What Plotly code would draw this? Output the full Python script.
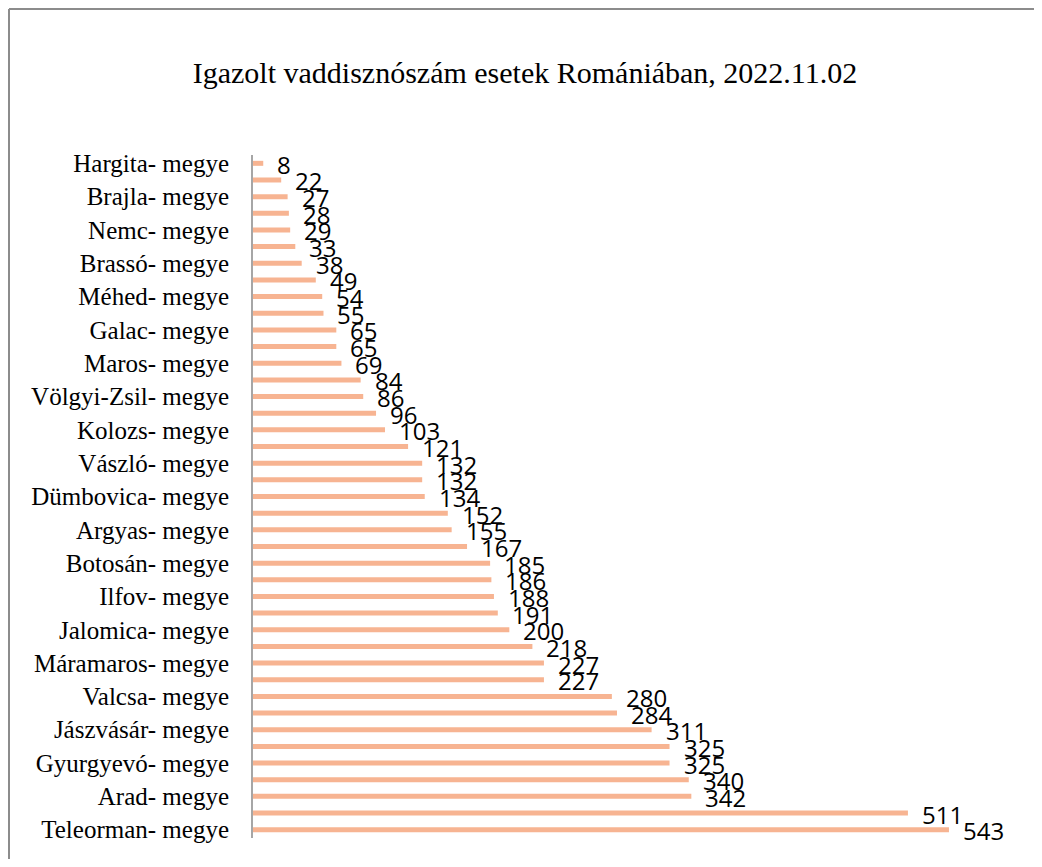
import plotly.graph_objects as go

W, H = 1026, 851

counties = [
    "Hargita- megye", "Kovászna- megye", "Brajla- megye", "Szilágy- megye",
    "Nemc- megye", "Beszterce-Naszód- megye", "Brassó- megye", "Szeben- megye",
    "Méhed- megye", "Fehér- megye", "Galac- megye", "Hunyad- megye",
    "Maros- megye", "Krassó-Szörény- megye", "Völgyi-Zsil- megye", "Bákó- megye",
    "Kolozs- megye", "Vrancsa- megye", "Vászló- megye", "Bodza- megye",
    "Dümbovica- megye", "Olt- megye", "Argyas- megye", "Dolj- megye",
    "Botosán- megye", "Prahova- megye", "Ilfov- megye", "Kalarás- megye",
    "Jalomica- megye", "Szucsáva- megye", "Máramaros- megye", "Bihar- megye",
    "Valcsa- megye", "Temes- megye", "Jászvásár- megye", "Konstanca- megye",
    "Gyurgyevó- megye", "Tulcsa- megye", "Arad- megye", "Szatmár- megye",
    "Teleorman- megye",
]
cases = [8, 22, 27, 28, 29, 33, 38, 49, 54, 55, 65, 65, 69, 84, 86, 96, 103,
         121, 132, 132, 134, 152, 155, 167, 185, 186, 188, 191, 200, 218, 227,
         227, 280, 284, 311, 325, 325, 340, 342, 511, 543]
shown_ticks = counties[::2]

title_text = "Igazolt vaddisznószám esetek Romániában, 2022.11.02"

L, R, T, B = 245, 12, 147, 21

fig = go.Figure()
fig.add_trace(go.Bar(
    x=cases, y=counties, orientation="h",
    marker=dict(color="#F7B492", line=dict(width=0)),
    width=0.3, hoverinfo="x+y",
))

for c, v in zip(counties, cases):
    fig.add_annotation(
        x=v, y=c, text=str(v), showarrow=False, xanchor="left", yanchor="middle",
        xshift=12, yshift=-1,
        font=dict(family="Open Sans", size=24, color="#000000"),
    )

pw = W - L - R
ph = H - T - B
def px(xp):
    return (xp - L) / pw
def py(yp):
    return (H - B - yp) / ph

# left and top edges of the chart frame (the rest is cropped in the reference)
fig.add_shape(
    type="line", xref="paper", yref="paper",
    x0=px(1), y0=py(H), x1=px(1), y1=py(1),
    line=dict(color="#8C8C8C", width=2),
)
fig.add_shape(
    type="line", xref="paper", yref="paper",
    x0=px(1), y0=py(1), x1=px(W), y1=py(1),
    line=dict(color="#8C8C8C", width=2),
)

fig.update_layout(
    width=W, height=H,
    margin=dict(l=L, r=R, t=T, b=B),
    paper_bgcolor="white", plot_bgcolor="white",
    showlegend=False,
    title=dict(text=title_text, x=517 / W, xanchor="center", y=1 - 64 / H,
               yanchor="middle",
               font=dict(family="Liberation Serif", size=30, color="#000000")),
    xaxis=dict(visible=False, range=[0, 600], fixedrange=True),
    yaxis=dict(
        type="category", categoryorder="array", categoryarray=counties,
        range=[40.5, -0.5],
        tickmode="array", tickvals=shown_ticks, ticktext=shown_ticks,
        showline=True, linecolor="#A6A6A6", linewidth=2,
        showgrid=False, zeroline=False, ticks="",
        ticklabelstandoff=17,
        tickfont=dict(family="Liberation Serif", size=25, color="#000000"),
    ),
)

fig.write_html("out.html")
